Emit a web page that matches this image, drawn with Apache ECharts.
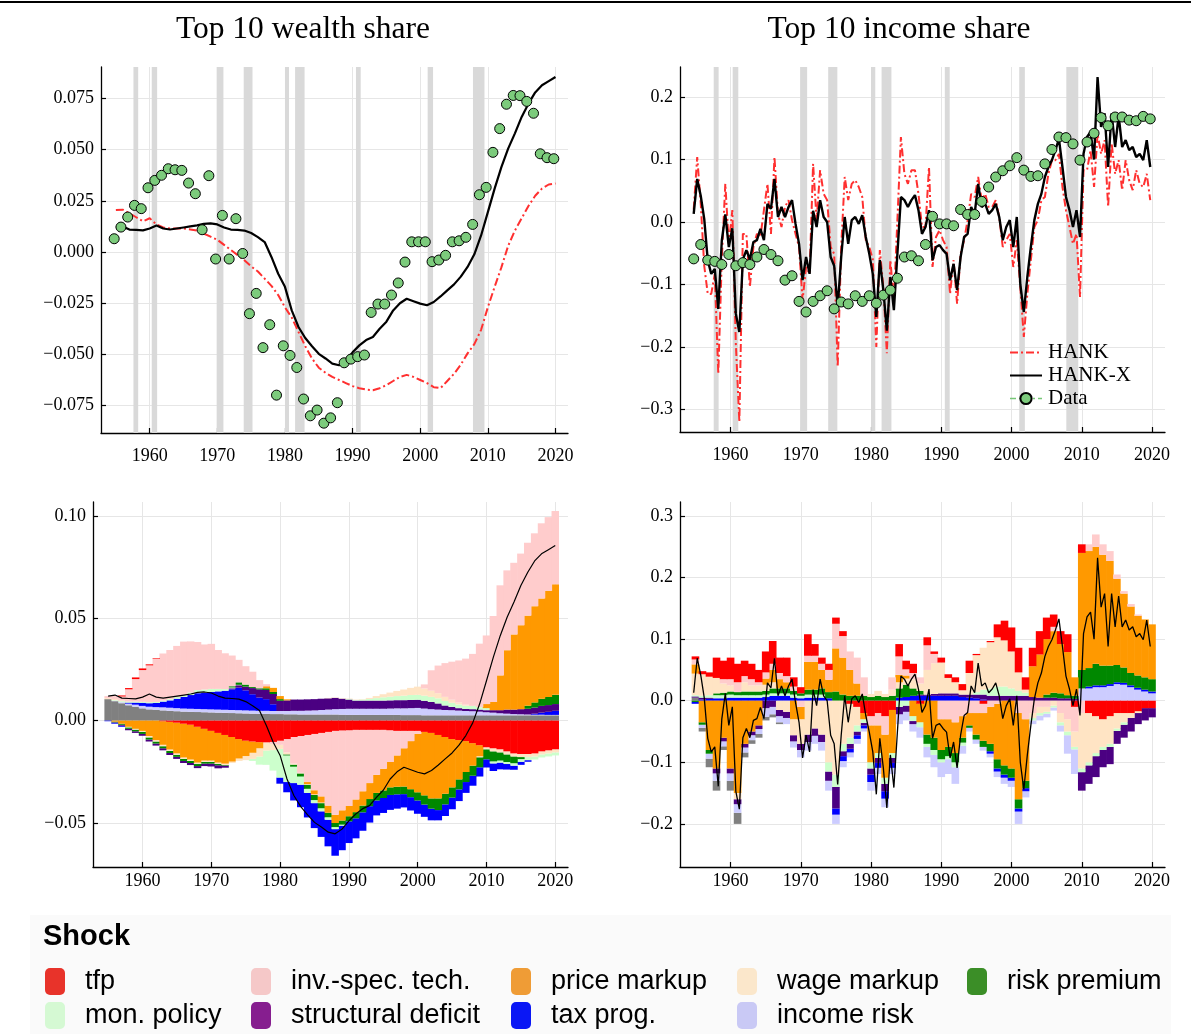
<!DOCTYPE html>
<html>
<head>
<meta charset="utf-8">
<script src="https://cdn.jsdelivr.net/npm/echarts@6/dist/echarts.min.js"></script>
<style>
  html, body { margin: 0; padding: 0; background: #ffffff; }
  #chart { width: 1191px; height: 1034px; }
</style>
</head>
<body>
<div id="chart"></div>
<script>
// ---------------- data ----------------
// annual points for the wealth lines and the decompositions (1955 ... 2020)
const years = [];
for (let y = 1955; y <= 2020; y++) years.push(y);
// survey observations sit at the last quarter of each year
const dataYears = years.map(y => y - 0.25);
// half-yearly points for the income lines
const halfYears = [];
for (let i = 0; i < 131; i++) halfYears.push(1954.75 + 0.5 * i);

const yearTicks = [1960, 1970, 1980, 1990, 2000, 2010, 2020];
const wealthTicks = [-0.075, -0.05, -0.025, 0, 0.025, 0.05, 0.075];
const incomeTicks = [-0.3, -0.2, -0.1, 0, 0.1, 0.2];
const wealthDecompTicks = [-0.05, 0, 0.05, 0.1];
const incomeDecompTicks = [-0.2, -0.1, 0, 0.1, 0.2, 0.3];

// NBER recessions
const recessions = [[1957.6, 1958.3], [1960.3, 1961.1], [1969.9, 1970.9], [1973.9, 1975.2],
  [1980.0, 1980.6], [1981.5, 1982.9], [1990.5, 1991.2], [2001.1, 2001.9], [2007.8, 2009.5]];

// Top 10 wealth share
const hankXWealth = [
  0.012, 0.0125, 0.011, 0.0108, 0.0106, 0.0115, 0.013, 0.0115, 0.011, 0.0115,
  0.012, 0.0125, 0.013, 0.0138, 0.014, 0.0135, 0.012, 0.011, 0.0108, 0.0105,
  0.0093, 0.0073, 0.0049, -0.0024, -0.0106, -0.017, -0.0285, -0.0366, -0.042, -0.046,
  -0.0497, -0.052, -0.0545, -0.0553, -0.053, -0.049, -0.0456, -0.043, -0.0415, -0.0375,
  -0.034, -0.0285, -0.025, -0.0228, -0.024, -0.0252, -0.026, -0.0244, -0.0217, -0.0187,
  -0.0158, -0.012, -0.0073, -0.0011, 0.0081, 0.0195, 0.031, 0.0415, 0.0505, 0.058,
  0.066, 0.0725, 0.078, 0.0815, 0.0835, 0.0855];
const hankWealth = [
  0.0205, 0.0207, 0.019, 0.017, 0.015, 0.0165, 0.0135, 0.012, 0.0115, 0.0115,
  0.0115, 0.011, 0.0105, 0.009, 0.0075, 0.006, 0.0035, 0.001, -0.0015, -0.004,
  -0.007, -0.0095, -0.013, -0.0165, -0.021, -0.027, -0.032, -0.039, -0.046, -0.052,
  -0.0565, -0.059, -0.061, -0.0625, -0.064, -0.0655, -0.0665, -0.0672, -0.0675, -0.0665,
  -0.065, -0.063, -0.061, -0.060, -0.061, -0.0625, -0.064, -0.066, -0.0665, -0.063,
  -0.0595, -0.055, -0.0495, -0.045, -0.038, -0.027, -0.017, -0.0075, 0.003, 0.0105,
  0.0165, 0.0225, 0.0275, 0.031, 0.033, 0.0335];
const dataWealth = [
  0.0065, 0.0122, 0.0171, 0.0228, 0.0212, 0.0314, 0.035, 0.0375, 0.0407, 0.0402,
  0.0399, 0.0337, 0.0285, 0.0109, 0.0373, -0.0034, 0.0179, -0.0034, 0.0163, -0.0007,
  -0.0301, -0.0202, -0.0467, -0.0355, -0.0699, -0.0458, -0.0505, -0.0564, -0.0718, -0.080,
  -0.0772, -0.0836, -0.081, -0.0736, -0.0541, -0.0523, -0.0511, -0.0503, -0.0295, -0.0254,
  -0.0254, -0.021, -0.0151, -0.0049, 0.005, 0.005, 0.005, -0.0047, -0.0039, -0.0016,
  0.005, 0.0055, 0.0072, 0.0135, 0.028, 0.0316, 0.0487, 0.0603, 0.0722, 0.0765,
  0.0764, 0.0736, 0.0678, 0.048, 0.0461, 0.0456];

// Top 10 income share
const hankXIncome = [
  0.013, 0.069, 0.042, 0.005, -0.061, -0.083, -0.075, -0.139, -0.030, 0.012,
  -0.040, -0.010, -0.147, -0.176, -0.060, -0.045, -0.060, -0.032, -0.029, -0.011,
  -0.029, 0.029, 0.021, 0.069, 0.008, 0.024, 0.008, 0.024, 0.035, -0.003,
  -0.035, -0.093, -0.056, -0.083, 0.018, -0.008, 0.035, 0.008, 0.000, -0.056,
  -0.070, -0.136, -0.056, 0.008, -0.035, 0.003, 0.008, -0.003, 0.011, -0.024,
  -0.051, -0.083, -0.152, -0.061, -0.109, -0.174, -0.088, -0.141, -0.051, 0.040,
  0.035, 0.024, 0.035, 0.043, 0.019, -0.019, -0.008, 0.019, -0.061, -0.040,
  -0.037, -0.045, -0.051, -0.093, -0.067, -0.109, -0.056, -0.024, -0.019, 0.024,
  0.013, 0.061, 0.024, 0.029, 0.013, 0.019, 0.029, 0.008, -0.029, -0.008,
  0.003, -0.040, 0.008, -0.100, -0.144, -0.088, -0.040, 0.003, 0.029, 0.045,
  0.072, 0.088, 0.099, 0.115, 0.133, 0.088, 0.040, 0.019, -0.008, 0.019,
  -0.024, 0.109, 0.136, 0.144, 0.100, 0.232, 0.152, 0.174, 0.088, 0.174,
  0.120, 0.170, 0.120, 0.131, 0.115, 0.120, 0.104, 0.109, 0.099, 0.131,
  0.088];
const hankIncome = [
  0.020, 0.104, 0.030, -0.070, -0.115, -0.115, -0.083, -0.243, -0.060, 0.061,
  -0.035, 0.019, -0.195, -0.320, -0.019, -0.019, -0.104, -0.040, -0.019, -0.024,
  0.019, 0.061, -0.019, 0.104, 0.013, -0.008, 0.024, 0.035, 0.003, -0.019,
  -0.040, -0.125, -0.072, -0.083, 0.093, 0.003, 0.083, 0.045, 0.035, -0.040,
  -0.051, -0.232, -0.040, 0.072, 0.035, 0.061, 0.067, 0.056, 0.040, -0.029,
  -0.040, -0.060, -0.200, -0.045, -0.104, -0.210, -0.061, -0.125, 0.003, 0.136,
  0.077, 0.061, 0.083, 0.083, 0.045, -0.008, -0.008, 0.088, -0.072, -0.024,
  -0.013, -0.029, -0.040, -0.115, -0.061, -0.131, -0.051, -0.029, 0.003, 0.045,
  0.040, 0.072, 0.035, 0.045, 0.024, 0.024, 0.035, 0.008, -0.040, -0.029,
  -0.019, -0.072, -0.029, -0.104, -0.184, -0.115, -0.061, -0.008, 0.003, 0.035,
  0.040, 0.077, 0.099, 0.099, 0.109, 0.056, 0.019, -0.008, -0.035, -0.019,
  -0.120, 0.083, 0.083, 0.115, 0.056, 0.141, 0.109, 0.131, 0.024, 0.126,
  0.077, 0.099, 0.051, 0.099, 0.067, 0.051, 0.083, 0.061, 0.056, 0.077,
  0.035];
const dataIncome = [
  -0.059, -0.036, -0.061, -0.063, -0.068, -0.052, -0.070, -0.065, -0.068, -0.056,
  -0.044, -0.052, -0.062, -0.093, -0.086, -0.127, -0.144, -0.127, -0.118, -0.110,
  -0.139, -0.128, -0.131, -0.118, -0.127, -0.118, -0.130, -0.117, -0.109, -0.090,
  -0.056, -0.054, -0.062, -0.036, 0.009, -0.003, -0.003, -0.006, 0.020, 0.012,
  0.012, 0.033, 0.056, 0.072, 0.082, 0.090, 0.103, 0.083, 0.073, 0.074,
  0.093, 0.116, 0.136, 0.135, 0.125, 0.099, 0.128, 0.142, 0.167, 0.154,
  0.168, 0.168, 0.163, 0.162, 0.169, 0.165];

// Shock decomposition of the wealth share (HANK-X)
const wTfp = [
  0, 0, 0.0005, 0.0006, 0.0008, 0.0008, 0.0005, 0.0003, -0.0003, -0.0006,
  -0.001, -0.0015, -0.002, -0.003, -0.004, -0.005, -0.006, -0.007, -0.008, -0.009,
  -0.0098, -0.0102, -0.0105, -0.0106, -0.0104, -0.0098, -0.009, -0.008, -0.0075, -0.007,
  -0.0065, -0.006, -0.0055, -0.005, -0.0048, -0.0047, -0.0045, -0.0045, -0.0045, -0.0045,
  -0.0045, -0.0047, -0.005, -0.005, -0.005, -0.005, -0.0055, -0.006, -0.007, -0.008,
  -0.009, -0.0095, -0.010, -0.011, -0.012, -0.013, -0.0135, -0.014, -0.015, -0.016,
  -0.0163, -0.0163, -0.016, -0.015, -0.0145, -0.014];
const wInv = [
  0.001, 0.0015, 0.002, 0.006, 0.011, 0.0155, 0.018, 0.021, 0.023, 0.024,
  0.025, 0.026, 0.025, 0.0235, 0.022, 0.022, 0.019, 0.0175, 0.015, 0.011,
  0.009, 0.0075, 0.004, 0.001, -0.001, -0.002, -0.0065, -0.013, -0.018, -0.023,
  -0.0275, -0.031, -0.036, -0.041, -0.039, -0.037, -0.034, -0.030, -0.026, -0.022,
  -0.019, -0.0155, -0.012, -0.0085, -0.005, -0.0015, 0.002, 0.010, 0.0135, 0.0165,
  0.0186, 0.0205, 0.0225, 0.0254, 0.031, 0.0335, 0.042, 0.044, 0.039, 0.035,
  0.035, 0.0356, 0.0356, 0.0367, 0.036, 0.0358];
const wPrice = [
  0, -0.0005, -0.0015, -0.003, -0.004, -0.005, -0.0075, -0.0095, -0.0115, -0.0135,
  -0.015, -0.0165, -0.017, -0.0175, -0.0155, -0.0145, -0.0145, -0.014, -0.012, -0.0095,
  -0.0075, -0.0055, -0.003, 0.001, 0.002, 0.0015, 0.0005, 0, 0, -0.001,
  -0.002, -0.003, -0.0035, -0.004, -0.005, -0.005, -0.0062, -0.007, -0.0078, -0.0088,
  -0.0106, -0.0124, -0.0153, -0.0187, -0.0235, -0.0285, -0.031, -0.032, -0.031, -0.0277,
  -0.0236, -0.0192, -0.0151, -0.011, -0.0054, 0.002, 0.004, 0.017, 0.029, 0.0367,
  0.041, 0.044, 0.047, 0.049, 0.0518, 0.054];
const wWage = [
  0.0005, 0.0005, 0.0003, -0.0003, -0.0004, -0.0005, -0.0007, -0.0007, -0.0007, -0.0007,
  -0.0007, -0.0007, -0.0007, -0.0007, -0.0007, -0.0007, -0.0007, -0.0007, -0.0007, -0.0012,
  -0.002, -0.003, -0.004, -0.004, -0.003, -0.002, -0.001, -0.0005, -0.0003, -0.0003,
  -0.0003, -0.0003, 0.0002, 0.0002, 0.0002, 0.0002, 0.0002, 0.0002, 0.0005, 0.001,
  0.0015, 0.002, 0.0025, 0.003, 0.0035, 0.004, 0.0035, 0.003, 0.0025, 0.002,
  0.0015, 0.001, 0.0005, 0, -0.0005, -0.001, -0.0015, -0.0015, -0.0015, -0.0015,
  -0.0015, -0.0015, -0.0015, -0.0015, -0.0015, -0.0015];
const wRisk = [
  0, -0.0003, -0.0005, -0.0007, -0.0008, -0.001, -0.001, -0.001, -0.001, -0.001,
  -0.001, -0.001, -0.001, -0.001, -0.0008, -0.0008, -0.0006, -0.0003, 0.0006, 0.0012,
  0.001, 0.0005, 0.0005, 0.0008, 0.001, 0.0008, -0.0005, -0.001, -0.0015, -0.002,
  -0.0025, -0.0025, -0.0022, -0.002, -0.002, -0.0025, -0.003, -0.0033, -0.0035, -0.0037,
  -0.0037, -0.0037, -0.0037, -0.0037, -0.0039, -0.004, -0.0045, -0.005, -0.0057, -0.0052,
  -0.005, -0.0049, -0.0049, -0.0049, -0.0049, -0.0049, -0.0049, -0.004, -0.0037, -0.0033,
  -0.001, 0.0015, 0.0025, 0.0035, 0.004, 0.0045];
const wMon = [
  0, 0.0003, 0.0005, 0.0005, 0.0005, 0.0005, 0.0005, 0.0005, 0.0005, 0.0006,
  0.0008, 0.001, 0.0012, 0.0015, 0.0015, 0.0015, 0.0012, 0.0008, 0.0004, 0.0002,
  0, -0.001, -0.004, -0.007, -0.010, -0.014, -0.013, -0.008, -0.004, -0.002,
  -0.0015, -0.0015, -0.0012, -0.001, -0.0005, 0.0003, 0.0003, 0.0005, 0.0008, 0.0012,
  0.0016, 0.0018, 0.002, 0.0022, 0.0024, 0.0024, 0.0025, 0.0025, 0.0025, 0.0022,
  0.002, 0.0018, 0.0016, 0.0016, 0.0012, 0.001, -0.001, -0.001, -0.001, -0.0012,
  -0.0013, -0.0015, -0.0015, -0.0015, -0.0015, -0.0015];
const wStruct = [
  0, -0.0002, -0.0005, -0.0007, -0.0008, -0.0009, -0.001, -0.001, -0.001, -0.001,
  -0.001, -0.001, -0.001, -0.001, -0.0012, -0.0014, -0.0015, -0.001, 0.0005, 0.0012,
  0.0018, 0.003, 0.004, 0.0045, 0.005, 0.005, 0.0052, 0.0055, 0.0055, 0.0055,
  0.0055, 0.0055, 0.0055, 0.0055, 0.005, 0.0045, 0.004, 0.004, 0.004, 0.004,
  0.004, 0.004, 0.004, 0.004, 0.004, 0.004, 0.0038, 0.0035, 0.003, 0.0022,
  0.0016, 0.0012, 0.001, 0.001, 0.001, 0.001, 0.0012, 0.0015, 0.002, 0.0022,
  0.0025, 0.0028, 0.003, 0.0033, 0.0033, 0.0033];
const wTax = [
  -0.0003, -0.0005, -0.0005, 0.0005, 0.001, 0.0015, 0.0017, 0.002, 0.0028, 0.0036,
  0.0046, 0.0057, 0.0067, 0.0077, 0.0081, 0.0085, 0.0089, 0.0093, 0.0101, 0.011,
  0.0098, 0.008, 0.0065, 0.0057, 0.0033, -0.003, -0.005, -0.0085, -0.011, -0.012,
  -0.0122, -0.0125, -0.013, -0.013, -0.012, -0.0106, -0.0098, -0.009, -0.008, -0.0073,
  -0.0073, -0.0073, -0.007, -0.0065, -0.0065, -0.0065, -0.006, -0.0057, -0.005, -0.0057,
  -0.0057, -0.0057, -0.0053, -0.0049, -0.0045, -0.004, -0.0037, -0.0033, -0.0027, -0.002,
  -0.0015, -0.0008, 0.0005, 0.001, 0.0015, 0.002];
const wIncomeRisk = [
  0, 0.0002, 0.0005, 0.0008, 0.001, 0.0012, 0.0013, 0.0014, 0.0015, 0.0015,
  0.0015, 0.0015, 0.0015, 0.0015, 0.0015, 0.0015, 0.0015, 0.0015, 0.0015, 0.0015,
  0.0015, 0.0015, 0.0015, 0.0015, 0.0015, 0.0015, 0.0016, 0.0017, 0.0018, 0.0019,
  0.002, 0.0022, 0.0024, 0.0026, 0.0028, 0.003, 0.003, 0.003, 0.003, 0.003,
  0.003, 0.0031, 0.0032, 0.0033, 0.0034, 0.0035, 0.0033, 0.003, 0.0028, 0.0026,
  0.0025, 0.0023, 0.0021, 0.002, 0.0018, 0.0015, 0.0013, 0.001, 0.0008, 0.0006,
  0.0005, 0.0004, 0.0003, 0.0003, 0.0002, 0.0002];
const wInitial = [
  0.0105, 0.0095, 0.0085, 0.0075, 0.0068, 0.006, 0.0055, 0.0052, 0.005, 0.0048,
  0.0046, 0.0044, 0.0043, 0.0042, 0.0041, 0.004, 0.0039, 0.0038, 0.0037, 0.0036,
  0.0035, 0.0034, 0.0033, 0.0033, 0.0032, 0.0032, 0.0031, 0.0031, 0.003, 0.003,
  0.003, 0.003, 0.003, 0.003, 0.0029, 0.0028, 0.0028, 0.0028, 0.0028, 0.0028,
  0.0028, 0.0028, 0.0028, 0.0027, 0.0027, 0.0027, 0.0026, 0.0026, 0.0026, 0.0026,
  0.0026, 0.0026, 0.0026, 0.0026, 0.0026, 0.0026, 0.0026, 0.0026, 0.0026, 0.0026,
  0.0026, 0.0026, 0.0026, 0.0026, 0.0026, 0.0026];

// Shock decomposition of the income share (HANK-X)
const iTfp = [
  0.005, 0.005, 0.007, 0.033, 0.03, 0.035, 0.03, 0.025, 0.025, 0.02,
  0.034, 0.037, 0.025, 0.03, 0.015, 0.01, 0.035, 0.019, 0.01, 0.01,
  0.01, 0.008, -0.005, -0.01, -0.02, -0.025, -0.02, -0.025, -0.015, 0.02,
  0.014, 0.015, -0.005, 0.013, 0.004, 0.008, 0.006, 0.008, 0.01, 0.02,
  0.002, -0.005, 0.002, 0.021, 0.032, 0.039, 0.04, 0.02, 0.03, 0.038,
  0.035, 0.02, 0.021, 0.029, -0.01, 0.014, -0.02, -0.025, -0.03, -0.025,
  -0.02, -0.02, -0.02, -0.017, -0.012, -0.012];
const iInv = [
  0.008, 0, 0, 0, 0.007, 0.01, 0.016, 0.01, 0.01, 0.005,
  0.01, 0.01, 0.01, 0.01, 0.007, -0.01, 0.01, 0.01, 0.01, 0.016,
  0.04, 0.035, 0.03, 0.042, 0.03, -0.015, -0.02, -0.03, 0.02, 0.03,
  0.01, 0.01, 0.01, 0.04, 0.015, -0.03, -0.03, -0.035, -0.025, -0.02,
  -0.02, -0.015, -0.01, -0.005, 0, 0, -0.02, -0.03, -0.02, -0.01,
  -0.01, 0.007, -0.02, -0.03, -0.04, -0.02, 0.011, 0.02, 0.017, 0.016,
  0.007, 0.004, 0.004, 0.002, 0, 0];
const iPrice = [
  0.015, -0.035, -0.08, -0.11, -0.06, -0.11, -0.15, -0.07, -0.05, -0.04,
  0.01, 0.02, 0.015, 0.01, -0.03, -0.02, 0.045, 0.045, 0.03, 0.02,
  0.07, 0.06, 0.042, 0.02, -0.01, -0.06, -0.045, -0.07, -0.07, 0.012,
  0.005, -0.025, -0.03, -0.055, -0.06, -0.05, -0.045, -0.05, -0.035, -0.02,
  -0.035, -0.045, -0.06, -0.09, -0.105, -0.11, -0.14, -0.1, 0.05, 0.07,
  0.09, 0.1, 0.08, 0.07, 0.03, 0.19, 0.19, 0.19, 0.18, 0.17,
  0.14, 0.12, 0.108, 0.097, 0.094, 0.089];
const iWage = [
  0.035, 0.035, 0.03, 0.025, 0.015, 0.01, -0.01, 0.015, 0.01, 0.01,
  0.01, 0.01, -0.015, -0.018, -0.026, -0.04, -0.055, -0.045, -0.055, -0.1,
  -0.12, -0.07, -0.055, -0.03, 0, 0.005, 0.008, 0.005, 0.01, 0.01,
  0.01, 0.015, 0.012, 0.04, 0.05, 0.05, 0.025, 0.018, 0.007, 0.035,
  0.06, 0.068, 0.075, 0.08, 0.075, 0.06, 0.03, 0.005, -0.008, -0.01,
  -0.008, -0.008, -0.015, -0.02, -0.025, -0.09, -0.08, -0.06, -0.045, -0.045,
  -0.025, -0.015, -0.008, -0.003, 0, 0];
const iRisk = [
  -0.002, -0.004, -0.006, 0.003, 0.004, 0.005, 0.005, 0.006, 0.006, 0.006,
  0.006, 0.008, 0.008, 0.008, 0.006, 0.004, 0.008, 0.008, 0.01, 0.01,
  0.015, 0.01, 0.008, 0.008, 0.008, 0.006, 0.008, 0.006, 0.008, 0.015,
  0.02, 0.012, 0.006, -0.015, -0.02, -0.015, -0.015, -0.015, -0.008, -0.004,
  -0.008, -0.01, -0.012, -0.015, -0.015, -0.015, -0.015, -0.012, 0, 0,
  0.005, 0.008, 0.008, 0.005, 0.005, 0.03, 0.03, 0.035, 0.032, 0.03,
  0.028, 0.025, 0.02, 0.02, 0.02, 0.02];
const iMon = [
  0.002, 0.003, 0.004, 0.005, 0.005, 0.005, 0.004, 0.004, 0.004, 0.004,
  0.004, 0.004, 0.004, 0.004, 0.005, 0.004, 0.005, 0.005, 0.005, -0.015,
  -0.02, -0.012, -0.01, -0.01, -0.006, -0.01, -0.008, -0.01, -0.008, -0.01,
  -0.008, -0.008, -0.008, -0.005, -0.008, -0.005, -0.005, -0.008, -0.005, 0,
  0.004, 0.008, 0.012, 0.015, 0.015, 0.012, 0.008, 0.005, -0.004, -0.004,
  -0.003, -0.003, -0.005, -0.006, -0.004, -0.006, -0.005, -0.005, -0.005, -0.005,
  -0.004, -0.004, 0, 0, 0, 0];
const iStruct = [
  0.002, 0.003, 0.002, -0.008, -0.006, -0.008, -0.008, -0.006, -0.006, -0.006,
  -0.012, -0.01, -0.01, -0.01, -0.01, -0.01, -0.012, -0.012, -0.012, -0.015,
  -0.035, -0.008, -0.008, -0.006, -0.004, -0.01, -0.008, -0.012, -0.008, -0.012,
  -0.01, -0.005, 0.002, 0.002, 0.003, 0.004, 0.004, 0.004, 0.004, 0.005,
  0.006, 0.008, 0.008, 0.008, 0.008, 0.008, 0.008, 0.008, 0.006, 0.005,
  0.005, 0.005, 0.004, 0.004, 0.003, -0.03, -0.03, -0.034, -0.028, -0.028,
  -0.021, -0.021, -0.022, -0.018, -0.02, -0.015];
const iTax = [
  -0.003, 0.002, 0.003, 0.004, 0.004, 0.005, 0.005, 0.005, 0.005, 0.005,
  0.006, 0.008, 0.008, 0.008, 0.005, 0.004, 0.005, 0.005, 0.005, 0.004,
  -0.01, -0.008, -0.006, -0.006, -0.005, -0.012, -0.008, -0.012, -0.008, 0.005,
  0.006, 0.008, 0.008, 0.008, 0.008, 0.008, 0.008, 0.008, 0.006, 0.005,
  0.004, 0.002, -0.004, -0.005, -0.005, -0.005, -0.005, -0.005, 0, 0,
  0, 0, 0, 0, 0, 0, 0.003, 0.003, 0.003, 0.003,
  0.003, 0.003, 0.003, 0.003, 0.003, 0.003];
const iIncomeRisk = [
  0, -0.005, -0.008, -0.012, -0.008, -0.012, -0.014, -0.008, -0.008, -0.008,
  -0.014, -0.012, -0.01, -0.01, -0.01, -0.012, -0.014, -0.013, -0.014, -0.016,
  -0.015, -0.01, -0.008, -0.008, -0.005, -0.014, -0.01, -0.014, -0.01, -0.016,
  -0.014, -0.012, -0.017, -0.017, -0.02, -0.024, -0.024, -0.027, -0.013, -0.006,
  -0.007, -0.006, -0.006, -0.009, -0.01, -0.01, -0.02, -0.01, -0.006, -0.008,
  -0.006, -0.005, -0.01, -0.03, -0.04, 0.02, 0.02, 0.022, 0.022, 0.024,
  0.027, 0.026, 0.022, 0.018, 0.015, 0.012];
const iInitial = [
  0.005, -0.006, -0.014, -0.016, -0.006, -0.016, -0.018, -0.008, -0.006, -0.006,
  -0.006, -0.005, -0.003, 0, 0, 0, 0, 0, 0, 0,
  0, 0, 0, 0, 0, 0, 0, 0, 0, 0,
  0, 0, 0, 0, 0, 0, 0, 0, 0, 0,
  0, 0, 0, 0, 0, 0, 0, 0, 0, 0,
  0, 0, 0, 0, 0, 0, 0, 0, 0, 0,
  0, 0, 0, 0, 0, 0];

// ---------------- styling ----------------
const SERIF = "'Liberation Serif', 'DejaVu Serif', serif";
const SANS = "'Liberation Sans', Arial, sans-serif";

// stacking order of the contributions, from the zero line outwards (positive side)
const shocks = [
  { key: 'initial', name: 'initial conditions', color: '#808080', legend: null },
  { key: 'income', name: 'income risk', color: '#ccccff', legend: '#c9c9f5' },
  { key: 'tax', name: 'tax prog.', color: '#0000ff', legend: '#0a17f5' },
  { key: 'struct', name: 'structural deficit', color: '#4b0082', legend: '#861e8f' },
  { key: 'mon', name: 'mon. policy', color: '#ccffcc', legend: '#d5f9d3' },
  { key: 'risk', name: 'risk premium', color: '#008800', legend: '#3b8e27' },
  { key: 'wage', name: 'wage markup', color: '#ffe4c4', legend: '#fbe7cb' },
  { key: 'price', name: 'price markup', color: '#ff9900', legend: '#ef9c36' },
  { key: 'inv', name: 'inv.-spec. tech.', color: '#ffcccc', legend: '#f5c8c8' },
  { key: 'tfp', name: 'tfp', color: '#ff0000', legend: '#e8332a' }
];
const wealthParts = { initial: wInitial, income: wIncomeRisk, tax: wTax, struct: wStruct, mon: wMon,
  risk: wRisk, wage: wWage, price: wPrice, inv: wInv, tfp: wTfp };
const incomeParts = { initial: iInitial, income: iIncomeRisk, tax: iTax, struct: iStruct, mon: iMon,
  risk: iRisk, wage: iWage, price: iPrice, inv: iInv, tfp: iTfp };

const zip = (xs, ys) => xs.map((x, i) => [x, ys[i]]);
const fmt = d => v => (v < 0 ? '\u2212' : '') + Math.abs(v).toFixed(d);

function xAxisFor(gridIndex, margin) {
  return {
    type: 'value', gridIndex, min: 1952.8, max: 2021.85,
    axisLine: { show: true, onZero: false, lineStyle: { color: '#000', width: 1.3 } },
    axisTick: { show: true, inside: true, length: 5, customValues: yearTicks, lineStyle: { color: '#000', width: 1.2 } },
    axisLabel: { customValues: yearTicks, fontFamily: SERIF, fontSize: 18, color: '#000', margin, formatter: v => String(v) },
    splitLine: { show: true, lineStyle: { color: '#e6e6e6', width: 1 } }
  };
}
function yAxisFor(gridIndex, min, max, ticks, decimals) {
  return {
    type: 'value', gridIndex, min, max,
    axisLine: { show: true, onZero: false, lineStyle: { color: '#000', width: 1.3 } },
    axisTick: { show: true, inside: true, length: 5, customValues: ticks, lineStyle: { color: '#000', width: 1.2 } },
    axisLabel: { customValues: ticks, fontFamily: SERIF, fontSize: 18, color: '#000', margin: 7, formatter: fmt(decimals) },
    splitLine: { show: true, lineStyle: { color: '#e6e6e6', width: 1 } }
  };
}

// Stacked yearly contributions: positives pile up from zero in shock order,
// negatives pile down from zero in the reverse order. Each block is [year, from, to].
function decompositionSeries(parts, axisIndex) {
  const posBase = years.map(() => 0);
  const negBase = years.map(() => 0);
  const blocks = {};
  shocks.forEach(s => { blocks[s.key] = []; });
  shocks.forEach(s => parts[s.key].forEach((v, i) => {
    if (v > 0) { blocks[s.key].push([years[i], posBase[i], posBase[i] + v]); posBase[i] += v; }
  }));
  shocks.slice().reverse().forEach(s => parts[s.key].forEach((v, i) => {
    if (v < 0) { blocks[s.key].push([years[i], negBase[i], negBase[i] + v]); negBase[i] += v; }
  }));
  return shocks.map(s => ({
    type: 'custom', name: s.name, xAxisIndex: axisIndex, yAxisIndex: axisIndex, z: 2,
    encode: { x: 0, y: [1, 2] },
    data: blocks[s.key],
    itemStyle: { color: s.color },
    silent: true,
    renderItem: (params, api) => {
      const x = api.value(0);
      const a = api.coord([x - 0.5, api.value(1)]);
      const b = api.coord([x + 0.5, api.value(2)]);
      return {
        type: 'rect',
        shape: { x: a[0] - 0.3, y: Math.min(a[1], b[1]), width: b[0] - a[0] + 0.6, height: Math.abs(b[1] - a[1]) },
        style: { fill: s.color }
      };
    }
  }));
}

const recessionArea = {
  silent: true,
  itemStyle: { color: '#d9d9d9' },
  data: recessions.map(r => [{ xAxis: r[0] }, { xAxis: r[1] }])
};

function topSeries(axisIndex, xsModel, hank, hankX, dataVals, blackWidth) {
  return [
    {
      type: 'line', name: 'HANK', xAxisIndex: axisIndex, yAxisIndex: axisIndex,
      data: zip(xsModel, hank), symbol: 'none', z: 3,
      lineStyle: { color: '#ff3030', width: 2, type: [8, 3, 2, 3] },
      itemStyle: { color: '#ff3030' },
      markArea: recessionArea
    },
    {
      type: 'line', name: 'HANK-X', xAxisIndex: axisIndex, yAxisIndex: axisIndex,
      data: zip(xsModel, hankX), symbol: 'none', z: 4,
      lineStyle: { color: '#000', width: blackWidth },
      itemStyle: { color: '#000' }
    },
    {
      type: 'line', name: 'Data', xAxisIndex: axisIndex, yAxisIndex: axisIndex,
      data: zip(dataYears, dataVals), symbol: 'circle', symbolSize: 10, showAllSymbol: true, z: 5,
      lineStyle: { opacity: 0, color: '#77c777' },
      itemStyle: { color: '#7ccb7c', borderColor: '#000', borderWidth: 1 }
    }
  ];
}

// one legend box per shock entry, laid out in two rows
const legendSlots = [
  ['tfp', 45, 968], ['inv.-spec. tech.', 251, 968], ['price markup', 511, 968],
  ['wage markup', 737, 968], ['risk premium', 967, 968],
  ['mon. policy', 45, 1002], ['structural deficit', 251, 1002], ['tax prog.', 511, 1002],
  ['income risk', 737, 1002]
];
const legendColor = name => shocks.find(s => s.name === name).legend;
const shockLegends = legendSlots.map(([n, left, top]) => ({
  orient: 'horizontal', left, top, padding: 0,
  itemWidth: 20, itemHeight: 27, icon: 'roundRect',
  selectedMode: false,
  textStyle: { fontFamily: SANS, fontSize: 27, color: '#000', padding: [0, 0, 0, 15] },
  data: [{ name: n, itemStyle: { color: legendColor(n) } }]
}));

const option = {
  animation: false,
  backgroundColor: '#ffffff',
  textStyle: { fontFamily: SERIF },
  grid: [
    { left: 101, top: 67, width: 467, height: 366 },
    { left: 680, top: 67, width: 485, height: 365 },
    { left: 93, top: 502, width: 475, height: 365 },
    { left: 680, top: 502, width: 485, height: 365 }
  ],
  xAxis: [xAxisFor(0, 14), xAxisFor(1, 14), xAxisFor(2, 5), xAxisFor(3, 5)],
  yAxis: [
    yAxisFor(0, -0.0884, 0.0904, wealthTicks, 3),
    yAxisFor(1, -0.336, 0.248, incomeTicks, 1),
    yAxisFor(2, -0.0715, 0.1068, wealthDecompTicks, 2),
    yAxisFor(3, -0.270, 0.3227, incomeDecompTicks, 1)
  ],
  legend: [
    {
      orient: 'vertical', left: 1009, top: 342, padding: 0, itemWidth: 32, itemHeight: 14, itemGap: 2,
      selectedMode: false,
      textStyle: { fontFamily: SERIF, fontSize: 21, color: '#000', padding: [0, 0, 0, 1] },
      data: [
        { name: 'HANK', itemStyle: { opacity: 0 } },
        { name: 'HANK-X', itemStyle: { opacity: 0 } },
        { name: 'Data', lineStyle: { opacity: 1, color: '#77c777', width: 1.5, type: [6, 3, 2, 3] } }
      ]
    }
  ].concat(shockLegends),
  graphic: [
    { type: 'line', shape: { x1: 0, y1: 2, x2: 1191, y2: 2 }, style: { stroke: '#000', lineWidth: 2 }, silent: true },
    { type: 'rect', shape: { x: 30, y: 915, width: 1141, height: 119 }, style: { fill: '#fafafa' }, z: -10, silent: true },
    { type: 'text', x: 303, y: 30, style: { text: 'Top 10 wealth share', font: '31.5px ' + SERIF, fill: '#000', textAlign: 'center', textVerticalAlign: 'middle' }, silent: true },
    { type: 'text', x: 899, y: 30, style: { text: 'Top 10 income share', font: '31.5px ' + SERIF, fill: '#000', textAlign: 'center', textVerticalAlign: 'middle' }, silent: true },
    { type: 'text', x: 43, y: 937, style: { text: 'Shock', font: 'bold 29px ' + SANS, fill: '#000', textAlign: 'left', textVerticalAlign: 'middle' }, silent: true }
  ],
  series: [].concat(
    topSeries(0, years, hankWealth, hankXWealth, dataWealth, 2.2),
    topSeries(1, halfYears, hankIncome, hankXIncome, dataIncome, 2.4),
    decompositionSeries(wealthParts, 2),
    [{
      type: 'line', name: 'HANK-X', xAxisIndex: 2, yAxisIndex: 2, data: zip(years, hankXWealth),
      symbol: 'none', z: 6, lineStyle: { color: '#000', width: 1.2 }, itemStyle: { color: '#000' }
    }],
    decompositionSeries(incomeParts, 3),
    [{
      type: 'line', name: 'HANK-X', xAxisIndex: 3, yAxisIndex: 3, data: zip(halfYears, hankXIncome),
      symbol: 'none', z: 6, lineStyle: { color: '#000', width: 1.3 }, itemStyle: { color: '#000' }
    }]
  )
};

const chart = echarts.init(document.getElementById('chart'), null, { renderer: 'canvas', width: 1191, height: 1034 });
chart.setOption(option);
</script>
</body>
</html>
